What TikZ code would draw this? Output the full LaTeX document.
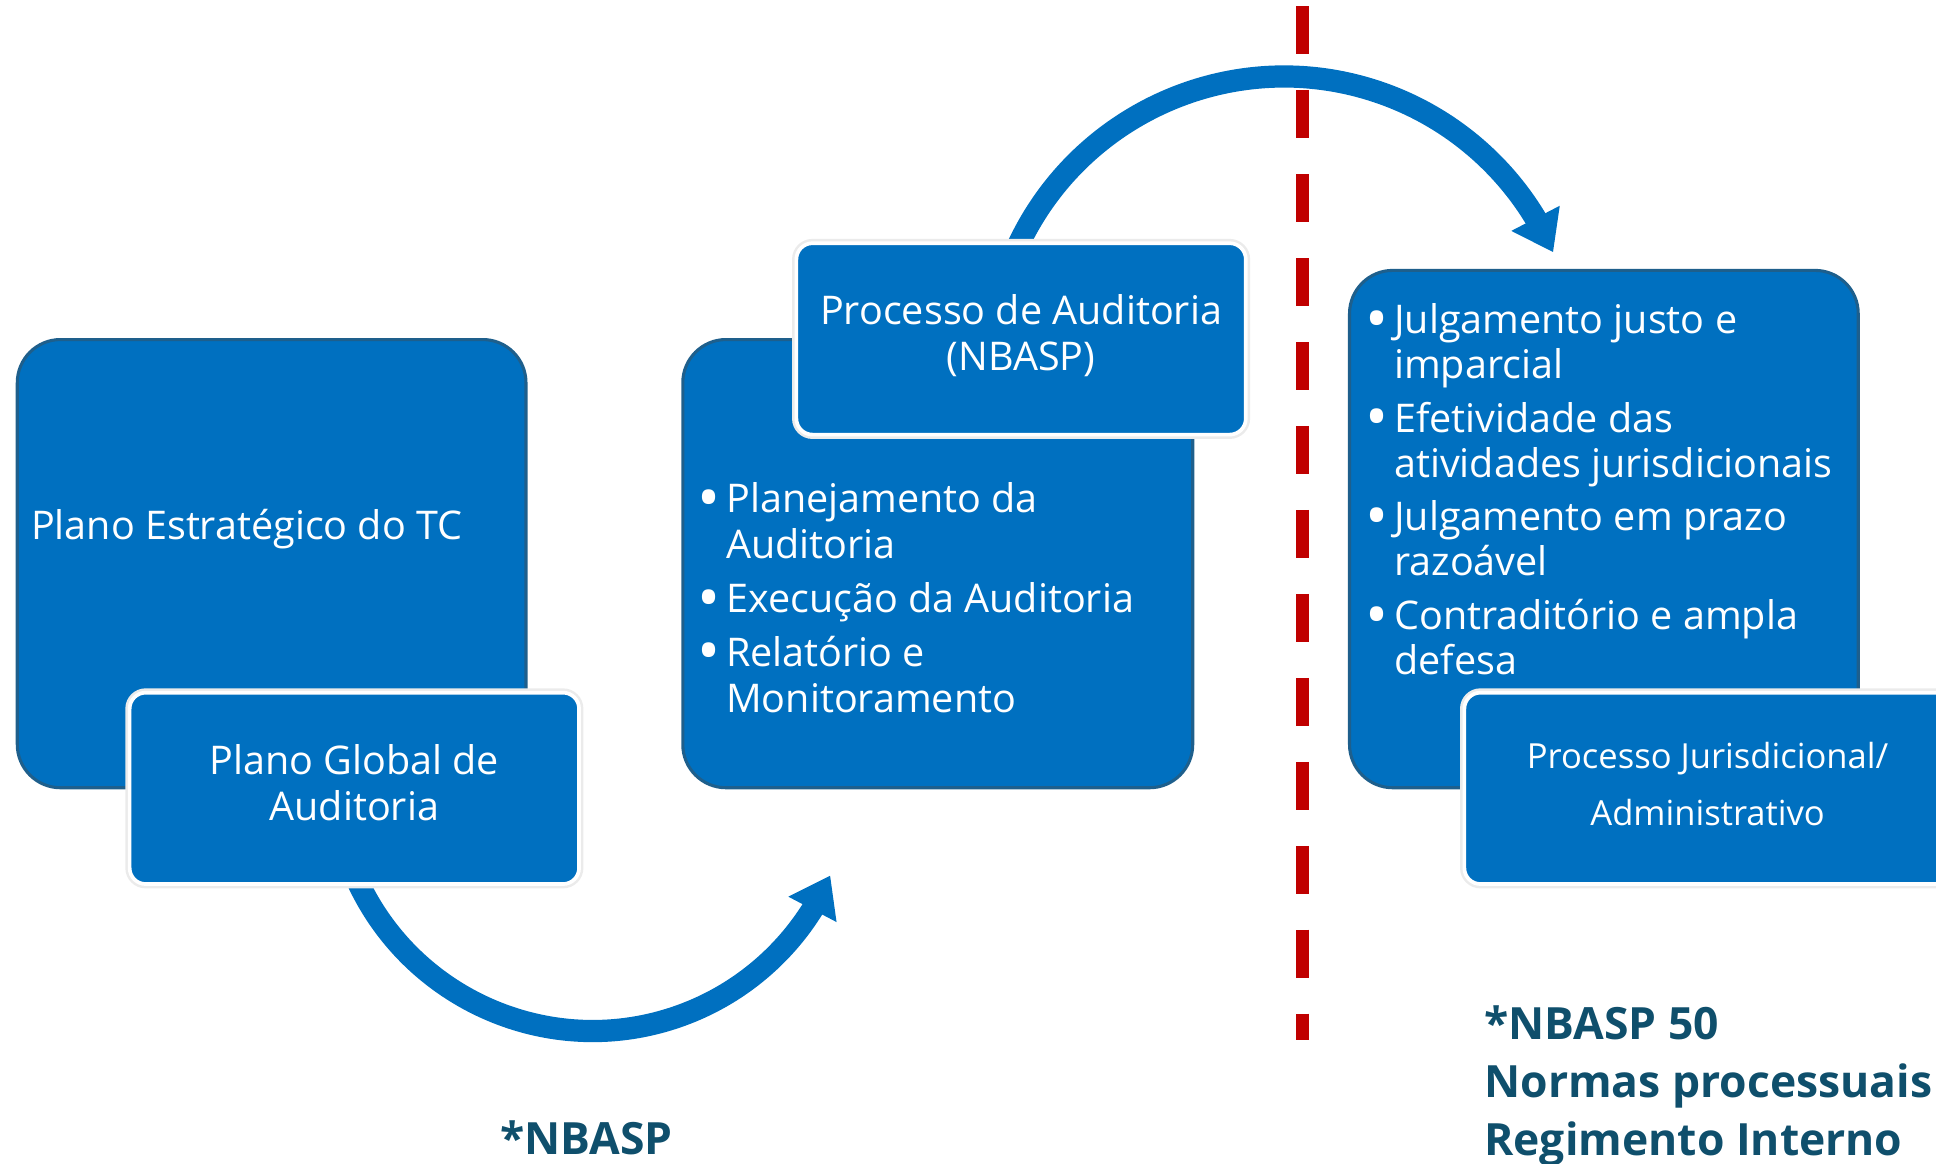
\documentclass[tikz,border=0pt]{standalone}
\usepackage{fontspec}
\setmainfont{Open Sans}
\usetikzlibrary{arrows.meta,bending}
\definecolor{boxblue}{RGB}{0,112,192}
\definecolor{boxedge}{RGB}{30,95,140}
\definecolor{dashred}{RGB}{192,0,0}
\definecolor{noteteal}{RGB}{15,79,108}
\newcommand{\bul}{\makebox[22pt][l]{\hspace*{-1.5pt}\raisebox{-5.5pt}[0pt][0pt]{\scalebox{1.55}{•}}}}
\newcommand{\ind}{\hspace*{22pt}}
\begin{document}
\begin{tikzpicture}[x=1pt,y=-1pt,
  bigbox/.style={draw=boxedge, line width=2.5pt, fill=boxblue, rounded corners=35pt, inner sep=0pt},
  smallbox/.style={draw=white, line width=3pt, fill=boxblue, rounded corners=13pt, inner sep=0pt,
    preaction={draw=black!8, line width=7pt}},
  bodytext/.style={text=white, font=\fontsize{32}{37.5}\selectfont, inner sep=0pt},
  smalltext/.style={text=white, font=\fontsize{28}{46}\selectfont, inner sep=0pt},
  note/.style={text=noteteal, font=\bfseries\fontsize{36}{47}\selectfont, inner sep=0pt},
  bigarrow/.style={draw=boxblue, line width=18pt, -{Triangle[length=31pt,width=42pt]}},
]
\useasboundingbox (0,0) rectangle (1568,942);
\clip (0,0) rectangle (1568,942);

% large boxes
\node[bigbox, minimum width=412pt, minimum height=363pt] (A) at (220,456.5) {};
\node[bigbox, minimum width=413pt, minimum height=363pt] (B) at (759.5,456.5) {};
\node[bigbox, minimum width=412pt, minimum height=419pt] (C) at (1299,428.5) {};

% curved arrows
\path (480,625) ++(160:210) coordinate (s1);
\draw[bigarrow] (s1) arc[start angle=160, end angle=23.6, radius=210];
\path (1040,300) ++(200:238) coordinate (s2);
\draw[bigarrow] (s2) arc[start angle=200, end angle=336.3, radius=238];

% small boxes
\node[smallbox, minimum width=364pt, minimum height=155pt] (A2) at (287,638.5) {};
\node[smallbox, minimum width=364pt, minimum height=155pt] (B2) at (827,274.5) {};
\node[smallbox, minimum width=394pt, minimum height=155pt] (C2) at (1383,638.5) {};

% dashed divider
\coordinate (d1) at (1055,5);
\coordinate (d2) at (1055,842);
\draw[dashred, line width=10pt, dash pattern=on 39pt off 29pt] (d1) -- (d2);

% texts
\node[bodytext, anchor=base west] (tA) at (25,437) {Plano Estratégico do TC};
\node[bodytext, align=center] (tA2) at (287,634) {Plano Global de\\Auditoria};
\node[bodytext, align=center] (tB2) at (827,272) {Processo de Auditoria\\(NBASP)};
\node[bodytext, anchor=base west] (tB) at (566,415) {\begin{tabular}[t]{@{}l@{}}
\bul Planejamento da\\
\ind Auditoria\\[6pt]
\bul Execução da Auditoria\\[6pt]
\bul Relatório e\\
\ind Monitoramento
\end{tabular}};
\node[bodytext, font=\fontsize{32}{36.5}\selectfont, anchor=base west] (tC) at (1107,270) {\begin{tabular}[t]{@{}l@{}}
\bul Julgamento justo e\\
\ind imparcial\\[7pt]
\bul Efetividade das\\
\ind atividades jurisdicionais\\[7pt]
\bul Julgamento em prazo\\
\ind razoável\\[7pt]
\bul Contraditório e ampla\\
\ind defesa
\end{tabular}};
\node[smalltext, align=center] (tC2) at (1383,635) {Processo Jurisdicional/\\Administrativo};

\node[note, anchor=base] (n1) at (475,935) {*NBASP};
\node[note, anchor=base west] (n2) at (1202,842) {\begin{tabular}[t]{@{}l@{}}
*NBASP 50\\
Normas processuais\\
Regimento Interno
\end{tabular}};
\end{tikzpicture}
\end{document}
